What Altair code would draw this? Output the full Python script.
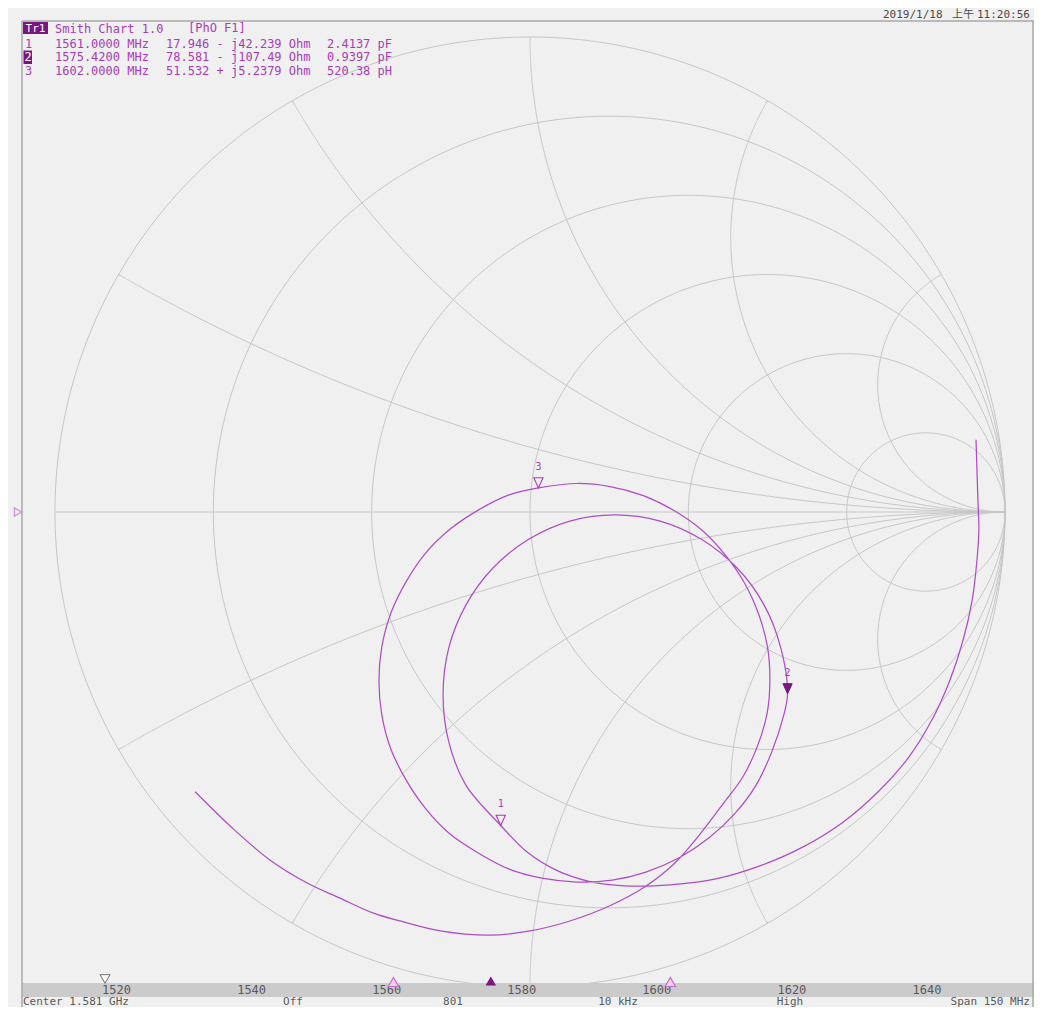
import altair as alt
import numpy as np
import pandas as pd

# ---------------- data read from the screen ----------------
# Reflection coefficient of the trace (real, imaginary), in sweep order 1506 -> 1656 MHz
trace_re = [0.939, 0.941, 0.943, 0.945, 0.941, 0.931, 0.912, 0.884, 0.846, 0.796,
            0.733, 0.659, 0.575, 0.484, 0.389, 0.295, 0.200, 0.122, 0.055, -0.006,
            -0.0615,
            -0.135, -0.171, -0.183, -0.171, -0.135, -0.078, -0.002, 0.084, 0.179, 0.274,
            0.360, 0.436, 0.493, 0.528,
            0.5422,
            0.533, 0.509, 0.476, 0.432, 0.377, 0.314, 0.244, 0.173, 0.099, 0.025,
            -0.044, -0.109, -0.171, -0.221, -0.261, -0.293, -0.312, -0.318, -0.312, -0.293,
            -0.261, -0.221, -0.168, -0.109, -0.044,
            0.0177,
            0.099, 0.171, 0.240, 0.305, 0.364, 0.413, 0.453, 0.482, 0.500, 0.505,
            0.499, 0.478, 0.448, 0.406,
            0.358, 0.305, 0.242, 0.168, 0.084, 0.000, -0.084, -0.189, -0.274, -0.331,
            -0.400, -0.469, -0.547, -0.627, -0.705]
trace_im = [0.152, 0.088, 0.025, -0.038, -0.101, -0.185, -0.269, -0.354, -0.438, -0.518,
            -0.589, -0.653, -0.705, -0.745, -0.773, -0.785, -0.787, -0.777, -0.754, -0.716,
            -0.6599,
            -0.575, -0.484, -0.385, -0.286, -0.196, -0.118, -0.057, -0.019, -0.006, -0.019,
            -0.057, -0.118, -0.196, -0.286,
            -0.3827,
            -0.432, -0.505, -0.575, -0.634, -0.686, -0.728, -0.758, -0.775, -0.779, -0.771,
            -0.752, -0.718, -0.676, -0.623, -0.564, -0.499, -0.427, -0.356, -0.284, -0.213,
            -0.147, -0.088, -0.036, 0.004, 0.036,
            0.0507,
            0.060, 0.053, 0.034, 0.002, -0.040, -0.093, -0.152, -0.217, -0.284, -0.356,
            -0.425, -0.495, -0.558, -0.615,
            -0.678, -0.739, -0.789, -0.829, -0.861, -0.882, -0.891, -0.882, -0.861, -0.844,
            -0.813, -0.781, -0.733, -0.665, -0.589]

# Markers
marker_id = ["1", "2", "3"]
marker_freq_mhz = [1561.0, 1575.42, 1602.0]
marker_r_ohm = [17.946, 78.581, 51.532]
marker_x_ohm = [-42.239, -107.49, 5.2379]
marker_comp = ["2.4137 pF", "0.9397 pF", "520.38 pH"]
z0 = 50.0

# Stimulus axis
start_mhz, stop_mhz = 1506.0, 1656.0
freq_ticks = [1520, 1540, 1560, 1580, 1600, 1620, 1640]
stim_marker_mhz = [1518.3]

# Smith chart grid (normalised resistance circles, reactance arcs)
grid_r = [0.0, 0.2, 0.5, 1.0, 2.0, 5.0]
grid_x = [0.268, 0.577, 1.0, 1.732, 3.732]

status_left = "Center 1.581 GHz"
status_mid = ["Off", "801", "10 kHz", "High"]
status_right = "Span 150 MHz"
date_parts = ["2019/1/18", "上午", "11:20:56"]

# ---------------- styling ----------------
W, H = 1026, 999
GX = [-1.098947, 1.061053]
GY = [-1.042105, 1.061053]
FD = [1503.927, 1655.852]
MONO = "DejaVu Sans Mono"
MAG = "#a83cb8"
TRACE = "#ae4ec6"
DARK = "#7b1580"
GRID = "#c6c6c6"
GREY_TXT = "#5a5a5a"

xs = alt.Scale(domain=GX, nice=False, zero=False)
ys = alt.Scale(domain=GY, nice=False, zero=False)
fs = alt.Scale(domain=FD, nice=False, zero=False)
pix = alt.Scale(domain=[0, W], range=[0, W])
piy = alt.Scale(domain=[0, H], range=[0, H])


def X(f):
    return alt.X(f, type="quantitative", scale=xs, axis=None)


def Y(f):
    return alt.Y(f, type="quantitative", scale=ys, axis=None)


one = pd.DataFrame({"a": [0]})

# grid lines
rows = []
gid = 0
theta = np.linspace(0, 2 * np.pi, 361)
for r in grid_r:
    c = r / (r + 1.0)
    rad = 1.0 / (r + 1.0)
    for k, t in enumerate(theta):
        rows.append((gid, k, c + rad * np.cos(t), rad * np.sin(t)))
    gid += 1
rr = np.concatenate([[0.0], np.logspace(-3, 4, 600)])
for xv in grid_x:
    for s in (1, -1):
        z = rr + 1j * s * xv
        g = (z - 1) / (z + 1)
        for k, gg in enumerate(g):
            rows.append((gid, k, gg.real, gg.imag))
        gid += 1
rows.append((gid, 0, -1.0, 0.0))
rows.append((gid, 1, 1.0, 0.0))
grid_df = pd.DataFrame(rows, columns=["gid", "k", "re", "im"])

grid = alt.Chart(grid_df).mark_line(color=GRID, strokeWidth=1).encode(
    x=X("re"), y=Y("im"), detail="gid:N", order="k:Q")

trace_df = pd.DataFrame({"i": np.arange(len(trace_re)), "re": trace_re, "im": trace_im})
trace = alt.Chart(trace_df).mark_line(color=TRACE, strokeWidth=1.25,
                                      interpolate="catmull-rom").encode(
    x=X("re"), y=Y("im"), order="i:Q")

# markers from impedance
zm = (np.array(marker_r_ohm) + 1j * np.array(marker_x_ohm)) / z0
gm = (zm - 1) / (zm + 1)
mk = pd.DataFrame({"id": marker_id, "re": gm.real, "im": gm.imag,
                   "active": [False, True, False]})
tri_down_tip = "M-1,-2.2L1,-2.2L0,0Z"
mk_open = alt.Chart(mk[~mk.active]).mark_point(
    shape=tri_down_tip, size=85, filled=True, fill="#f0f0f0", stroke=MAG,
    strokeWidth=1.1, opacity=1).encode(x=X("re"), y=Y("im"))
mk_act = alt.Chart(mk[mk.active]).mark_point(
    shape=tri_down_tip, size=85, filled=True, fill=DARK, stroke=DARK,
    strokeWidth=1, opacity=1).encode(x=X("re"), y=Y("im"))
mk_lab = alt.Chart(mk).mark_text(dy=-21, fontSize=10, font=MONO, color=MAG,
                                 baseline="middle").encode(
    x=X("re"), y=Y("im"), text="id:N")

# reference position marker at left edge
ref_df = pd.DataFrame({"re": [-1.078], "im": [0.0]})
ref_mk = alt.Chart(ref_df).mark_point(shape="triangle-right", size=70, filled=False,
                                      stroke="#c060d0", strokeWidth=1.2).encode(
    x=X("re"), y=Y("im"))

# stimulus bar
bar_df = pd.DataFrame({"f0": [start_mhz], "f1": [stop_mhz]})
bar = alt.Chart(bar_df).mark_rect(color="#cbcbcb").encode(
    x=alt.X("f0:Q", scale=fs, axis=None), x2="f1:Q",
    y=alt.value(975), y2=alt.value(989))
tick_df = pd.DataFrame({"f": freq_ticks, "t": [str(v) for v in freq_ticks]})
ticks = alt.Chart(tick_df).mark_text(font=MONO, fontSize=12, color=GREY_TXT,
                                     baseline="middle").encode(
    x=alt.X("f:Q", scale=fs, axis=None), y=alt.value(982), text="t:N")
bm = pd.DataFrame({"f": marker_freq_mhz, "active": [False, True, False]})
bar_open = alt.Chart(bm[~bm.active]).mark_point(
    shape="triangle-up", size=110, filled=True, fill="#ecd2ec", stroke="#c868c8",
    strokeWidth=1.1, opacity=1).encode(x=alt.X("f:Q", scale=fs, axis=None), y=alt.value(974))
bar_act = alt.Chart(bm[bm.active]).mark_point(
    shape="triangle-up", size=110, filled=True, fill=DARK, opacity=1).encode(
    x=alt.X("f:Q", scale=fs, axis=None), y=alt.value(973))
stim = alt.Chart(pd.DataFrame({"f": stim_marker_mhz})).mark_point(
    shape="triangle-down", size=100, filled=True, fill="#ffffff", stroke="#707070",
    strokeWidth=1, opacity=1).encode(x=alt.X("f:Q", scale=fs, axis=None), y=alt.value(971))

# frame
frame_top = alt.Chart(one).mark_rule(color="#a8a8a8", strokeWidth=1.5).encode(
    x=alt.value(14), x2=alt.value(1026), y=alt.value(13))
frame_left = alt.Chart(one).mark_rule(color="#a8a8a8", strokeWidth=1.5).encode(
    x=alt.value(14), y=alt.value(13), y2=alt.value(999))
frame_right = alt.Chart(one).mark_rule(color="#a8a8a8", strokeWidth=1.5).encode(
    x=alt.value(1025), y=alt.value(13), y2=alt.value(999))

# header
tr_box = alt.Chart(one).mark_rect(color=DARK).encode(
    x=alt.value(15), x2=alt.value(40), y=alt.value(14), y2=alt.value(26))
tr_txt = alt.Chart(pd.DataFrame({"t": ["Tr1"]})).mark_text(
    font=MONO, fontSize=11, color="white", align="center", baseline="middle").encode(
    x=alt.value(27.5), y=alt.value(20.5), text="t:N")
title1 = alt.Chart(pd.DataFrame({"t": ["Smith Chart 1.0"]})).mark_text(
    font=MONO, fontSize=12, color=MAG, align="left", baseline="middle").encode(
    x=alt.value(47), y=alt.value(21), text="t:N")
title2 = alt.Chart(pd.DataFrame({"t": ["[PhO F1]"]})).mark_text(
    font=MONO, fontSize=12, color=MAG, align="left", baseline="middle").encode(
    x=alt.value(180), y=alt.value(20), text="t:N")

row_y = [35.5, 49.3, 63.0]
hdr = pd.DataFrame({
    "id": marker_id,
    "freq": [f"{f:.4f} MHz" for f in marker_freq_mhz],
    "imp": [f"{r:.5g} {'-' if x < 0 else '+'} j{abs(x):.5g} Ohm"
            for r, x in zip(marker_r_ohm, marker_x_ohm)],
    "comp": marker_comp,
    "y": row_y,
})
hdr_layers = []
for col, xpos in (("freq", 47), ("imp", 158), ("comp", 319)):
    hdr_layers.append(alt.Chart(hdr).mark_text(
        font=MONO, fontSize=12, color=MAG, align="left", baseline="middle").encode(
        x=alt.value(xpos), y=alt.Y("y:Q", scale=piy, axis=None), text=f"{col}:N"))
id_box = alt.Chart(one).mark_rect(color=DARK).encode(
    x=alt.value(15.5), x2=alt.value(24), y=alt.value(42.5), y2=alt.value(56))
ids_plain = alt.Chart(hdr[hdr.id != "2"]).mark_text(
    font=MONO, fontSize=12, color=MAG, align="left", baseline="middle").encode(
    x=alt.value(17), y=alt.Y("y:Q", scale=piy, axis=None), text="id:N")
ids_act = alt.Chart(hdr[hdr.id == "2"]).mark_text(
    font=MONO, fontSize=12, color="white", align="left", baseline="middle").encode(
    x=alt.value(16.5), y=alt.Y("y:Q", scale=piy, axis=None), text="id:N")

date = alt.Chart(pd.DataFrame({"t": date_parts, "px": [875, 944, 969]})).mark_text(
    font=MONO + ", Noto Sans CJK SC", fontSize=11, color="#4a4a4a", align="left",
    baseline="middle").encode(x=alt.X("px:Q", scale=pix, axis=None), y=alt.value(6.5),
                              text="t:N")

# status line
st_l = alt.Chart(pd.DataFrame({"t": [status_left]})).mark_text(
    font=MONO, fontSize=11, color=GREY_TXT, align="left", baseline="bottom").encode(
    x=alt.value(15), y=alt.value(999), text="t:N")
st_r = alt.Chart(pd.DataFrame({"t": [status_right]})).mark_text(
    font=MONO, fontSize=11, color=GREY_TXT, align="right", baseline="bottom").encode(
    x=alt.value(1022), y=alt.value(999), text="t:N")
st_m = alt.Chart(pd.DataFrame({"t": status_mid, "px": [285, 445, 610, 782]})).mark_text(
    font=MONO, fontSize=11, color=GREY_TXT, align="center", baseline="bottom").encode(
    x=alt.X("px:Q", scale=pix, axis=None), y=alt.value(999), text="t:N")

chart = alt.layer(
    grid, trace, mk_open, mk_act, mk_lab, ref_mk,
    bar, ticks, stim, bar_open, bar_act,
    frame_top, frame_left, frame_right,
    tr_box, tr_txt, title1, title2, *hdr_layers, id_box, ids_plain, ids_act,
    date, st_l, st_r, st_m,
).resolve_scale(x="independent", y="independent").properties(
    width=W, height=H, padding=0, autosize=alt.AutoSizeParams(type="none"),
    background="#f0f0f0",
).configure_view(strokeWidth=0)

chart.save("out.html", embed_options={"renderer": "svg", "actions": False})
